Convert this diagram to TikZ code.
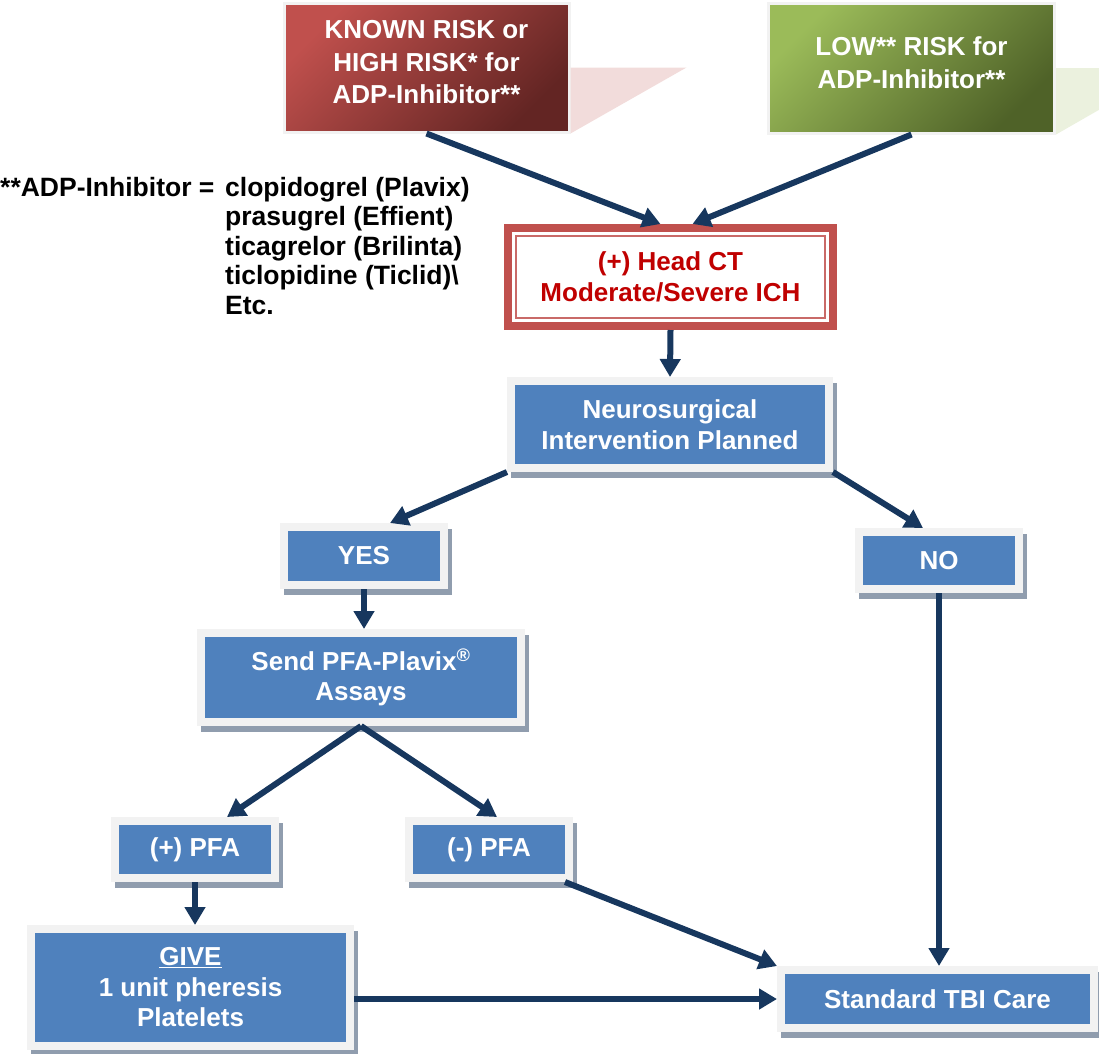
\documentclass[tikz,border=0pt]{standalone}
\usepackage{fontspec}
\setmainfont{Liberation Sans}
\usetikzlibrary{arrows.meta,shadows}

\definecolor{boxblue}{RGB}{79,129,189}
\definecolor{boxgray}{RGB}{242,242,242}
\definecolor{shadowgray}{RGB}{144,157,174}
\definecolor{navy}{RGB}{23,55,94}
\definecolor{redlight}{RGB}{192,80,77}
\definecolor{reddark}{RGB}{99,37,35}
\definecolor{pinkshade}{RGB}{242,220,219}
\definecolor{greenlight}{RGB}{155,187,89}
\definecolor{greendark}{RGB}{79,98,40}
\definecolor{greenshade}{RGB}{235,241,222}
\definecolor{headred}{RGB}{192,80,77}
\definecolor{headtext}{RGB}{192,0,0}

\tikzset{
    flowbox/.style={draw=boxgray, line width=8pt, fill=boxblue, text=white, inner sep=0pt,
        drop shadow={shadow xshift=4pt, shadow yshift=-6pt, fill=shadowgray,
            draw=shadowgray, line width=8pt, opacity=1}},
    riskbox/.style={draw=boxgray, line width=3pt, text=white, inner sep=0pt,
        font=\bfseries\fontsize{26}{32.5}\selectfont},
    flow/.style={draw=navy, line width=6pt, -{Triangle[length=18pt,width=20pt]}}
}

\begin{document}
\begin{tikzpicture}[x=1pt,y=-1pt,
    every node/.style={font=\bfseries\fontsize{26}{30.5}\selectfont, align=center}]
    \useasboundingbox (0,0) rectangle (1099,1053);
    \clip (0,0) rectangle (1099,1053);

    % Risk boxes
    \node[riskbox, top color=redlight, bottom color=reddark, shading angle=45,
        minimum width=285, minimum height=129] (known) at (426.5,67.5)
        {KNOWN RISK or\\HIGH RISK* for\\ADP-Inhibitor**\\[-22pt]};
    \node[riskbox, top color=greenlight, bottom color=greendark, shading angle=45,
        minimum width=286, minimum height=130] (low) at (911.5,68)
        {LOW** RISK for\\ADP-Inhibitor**\\[-22pt]};
    \fill[pinkshade] (known.east) -- ++(116,0) -- (known.south east) -- cycle;
    \fill[greenshade] (low.east) -- ++(116,0) -- (low.south east) -- cycle;

    % Legend
    \node[anchor=base west, inner sep=0pt, align=left,
        font=\bfseries\fontsize{26.5}{29.5}\selectfont] (legend) at (0,196)
        {\begin{tabular}[t]{@{}p{225pt}@{}l@{}}
            **ADP-Inhibitor = & clopidogrel (Plavix)\\
                              & prasugrel (Effient)\\
                              & ticagrelor (Brilinta)\\
                              & ticlopidine (Ticlid)\textbackslash\\
                              & Etc.
        \end{tabular}};

    % Head CT
    \node[draw=headred, line width=8pt, fill=white, text=headtext, inner sep=0pt,
        minimum width=325, minimum height=98] (headct) at (670.5,277)
        {(+) Head CT\\Moderate/Severe ICH};
    \draw[headred!85, line width=1.5pt] ([shift={(12pt,-12pt)}]headct.north west)
        rectangle ([shift={(-12pt,12pt)}]headct.south east);

    % Flow boxes
    \node[flowbox, minimum width=318, minimum height=87] (neuro) at (670,424.5)
        {Neurosurgical\\Intervention Planned};
    \node[flowbox, minimum width=160, minimum height=58] (yes) at (364,556) {YES};
    \node[flowbox, minimum width=160, minimum height=57] (no) at (939,560.5) {NO};
    \node[flowbox, minimum width=320, minimum height=89] (pfa) at (361,677.5)
        {Send PFA-Plavix\textsuperscript{®}\\Assays};
    \node[flowbox, minimum width=160, minimum height=57] (pos) at (195,849.5) {(+) PFA};
    \node[flowbox, minimum width=160, minimum height=57] (neg) at (489,849.5) {(-) PFA};
    \node[flowbox, minimum width=319, minimum height=117] (give) at (190.5,987.5)
        {\underline{GIVE}\\1 unit pheresis\\Platelets};
    \node[flowbox, minimum width=313, minimum height=58] (std) at (937.5,999)
        {Standard TBI Care};

    % Arrows
    \draw[flow] (known.south) -- ([xshift=-10pt]headct.north);
    \draw[flow] (low.south) -- ([xshift=22pt]headct.north);
    \draw[flow] (headct.south) -- (neuro.north);
    \draw[flow] (neuro.south west) -- ([xshift=26pt]yes.north);
    \draw[flow] (neuro.south east) -- ([xshift=-16pt]no.north);
    \draw[flow] (yes.south) -- (yes.south |- pfa.north);
    \draw[flow] (pfa.south) -- ([xshift=32pt]pos.north);
    \draw[flow] (pfa.south) -- ([xshift=8pt]neg.north);
    \draw[flow] (pos.south) -- (pos.south |- give.north);
    \draw[flow] ([xshift=-8pt]neg.south east) -- (std.north west);
    \draw[flow] (no.south) -- (no.south |- std.north);
    \draw[flow] (give.east |- std.west) -- (std.west);
\end{tikzpicture}
\end{document}
